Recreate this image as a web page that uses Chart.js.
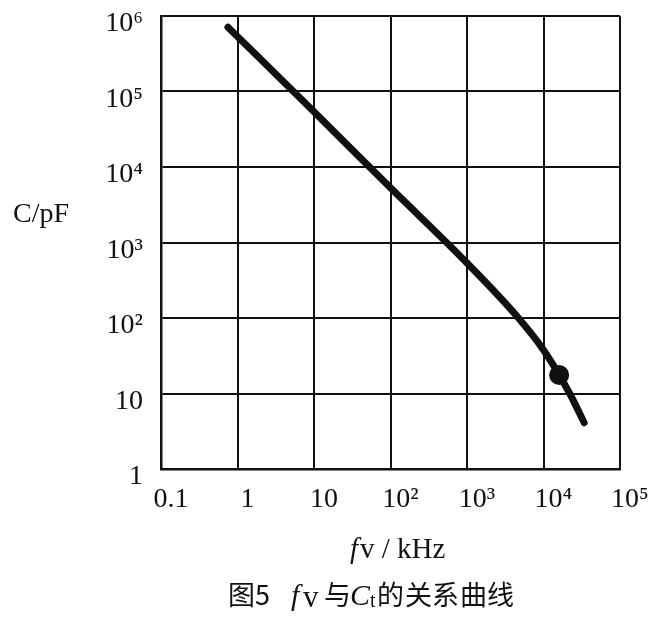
<!DOCTYPE html>
<html><head><meta charset="utf-8">
<script src="https://cdn.jsdelivr.net/npm/chart.js@4.4.1/dist/chart.umd.min.js"></script>
<style>html,body{margin:0;padding:0;background:#fff;} #wrap{position:relative;width:661px;height:619px;}</style>
</head><body><div id="wrap"><canvas id="c"></canvas></div>
<script>
const freqKHz = [0.75, 10, 100, 1000, 4700, 10000, 22000, 34000];
const capPF = [7.1e5, 5.4e4, 5.3e3, 535, 100, 37.7, 10, 4.1];
const markerFreq = [16000];
const markerCap = [17.6];
const xTickValues = [0.1, 1, 10, 100, 1000, 10000, 100000];
const xTickLabels = ['0.1', '1', '10', '10²', '10³', '10⁴', '10⁵'];
const yTickValues = [1, 10, 100, 1000, 10000, 100000, 1000000];
const yTickLabels = ['1', '10', '10²', '10³', '10⁴', '10⁵', '10⁶'];
const yTitle = 'C/pF';
const xTitleParts = [['f', 'italic'], ['v / kHz', 'normal']];
const captionParts = [['图5', 'cjk', 228], ['f', 'ital', 291], ['v', 'small', 303], ['与', 'cjk', 324], ['C', 'ital', 350], ['t', 'sub', 370], ['的', 'cjk', 377], ['关', 'cjk', 405], ['系', 'cjk', 432], ['曲', 'cjk', 460], ['线', 'cjk', 487]];

const INK = '#111';
const serif = '"Liberation Serif", "DejaVu Serif", serif';
const cjk = '"Noto Sans CJK SC", sans-serif';

const textPlugin = {
  id: 'texts',
  afterDraw(chart) {
    const ctx = chart.ctx;
    ctx.save();
    ctx.fillStyle = INK;
    ctx.textBaseline = 'alphabetic';
    ctx.textAlign = 'left';
    ctx.font = '28px ' + serif;
    ctx.fillText(yTitle, 13, 222);
    // x title
    let x = 350;
    for (const [t, s] of xTitleParts) {
      ctx.font = (s === 'italic' ? 'italic ' : '') + '29px ' + serif;
      ctx.fillText(t, x, 558);
      x += ctx.measureText(t).width + (s === 'italic' ? 2 : 0);
    }
    // caption
    for (const [t, s, px] of captionParts) {
      let f, dy = 0;
      if (s === 'cjk') f = '27px ' + cjk;
      else if (s === 'ital') f = 'italic 30px ' + serif;
      else if (s === 'small') { f = '31px ' + serif; dy = 2; }
      else { f = '20px ' + serif; dy = 2; }
      ctx.font = f;
      ctx.fillText(t, px, 605 + dy);
    }
    ctx.restore();
  }
};

new Chart(document.getElementById('c'), {
  type: 'line',
  data: {
    datasets: [
      {
        data: freqKHz.map((f, i) => ({ x: f, y: capPF[i] })),
        borderColor: INK, borderWidth: 7, pointRadius: 0,
        cubicInterpolationMode: 'monotone', borderCapStyle: 'round', fill: false
      },
      {
        data: markerFreq.map((f, i) => ({ x: f, y: markerCap[i] })),
        showLine: false, pointRadius: 10, pointBackgroundColor: INK, pointBorderWidth: 0
      }
    ]
  },
  options: {
    responsive: true, maintainAspectRatio: false, animation: false,
    layout: { padding: { left: 0, top: 16, right: 41, bottom: 0 } },
    plugins: { legend: { display: false }, tooltip: { enabled: false } },
    scales: {
      x: {
        type: 'logarithmic', min: 0.1, max: 100000,
        afterBuildTicks: s => { s.ticks = xTickValues.map(v => ({ value: v })); },
        afterFit: s => { s.height = 150; s.paddingLeft = 0; s.paddingRight = 0; },
        grid: { color: INK, lineWidth: 2, drawTicks: false },
        border: { color: INK, width: 2.5 },
        ticks: {
          autoSkip: false, maxRotation: 0, padding: 14, labelOffset: 10,
          color: INK, font: { family: serif, size: 28 },
          callback: (v, i) => xTickLabels[i]
        }
      },
      y: {
        type: 'logarithmic', min: 1, max: 1000000,
        afterBuildTicks: s => { s.ticks = yTickValues.map(v => ({ value: v })); },
        afterFit: s => { s.width = 161; s.paddingTop = 0; s.paddingBottom = 0; },
        grid: { color: INK, lineWidth: 2, drawTicks: false },
        border: { color: INK, width: 2.5 },
        ticks: {
          autoSkip: false, padding: 18, labelOffset: 8,
          color: INK, font: { family: serif, size: 28 },
          callback: (v, i) => yTickLabels[i]
        }
      }
    }
  },
  plugins: [textPlugin]
});
</script></body></html>
